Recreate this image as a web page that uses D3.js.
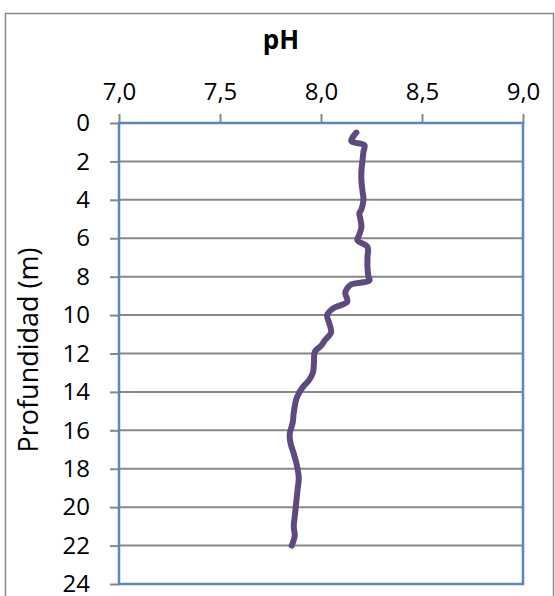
<!DOCTYPE html>
<html>
<head>
<meta charset="utf-8">
<script src="https://cdn.jsdelivr.net/npm/d3@7"></script>
<style>
    body { margin: 0; background: #fff; }
    svg text { font-family: "Open Sans", "Liberation Sans", sans-serif; fill: #000; }
</style>
</head>
<body>
<svg id="chart" width="555" height="596"></svg>
<script>
// depth profile of pH
const depths = [0.5, 0.95, 1.15, 1.5, 2.0, 2.5, 3.0, 3.5, 4.0, 4.5, 4.7, 5.0, 5.4, 5.8, 6.1,
    6.45, 7.0, 7.5, 8.0, 8.2, 8.4, 8.6, 8.85, 9.3, 9.65, 10.0, 10.4, 10.9, 11.3, 11.6, 11.9,
    12.5, 13.0, 13.4, 13.75, 14.3, 15.1, 15.6, 16.2, 16.7, 17.2, 17.8, 18.5, 19.0, 19.5, 20.0,
    20.5, 21.0, 21.5, 22.0];
const phValues = [8.175, 8.15, 8.215, 8.21, 8.205, 8.20, 8.20, 8.205, 8.21, 8.20, 8.19, 8.195, 8.20, 8.19, 8.18,
    8.23, 8.23, 8.23, 8.235, 8.24, 8.15, 8.13, 8.12, 8.13, 8.06, 8.03, 8.04, 8.05, 8.02, 8.0, 7.97,
    7.965, 7.96, 7.94, 7.91, 7.88, 7.865, 7.86, 7.845, 7.85, 7.865, 7.88, 7.89, 7.885, 7.88, 7.875,
    7.87, 7.865, 7.87, 7.855];
const xTicks = [7.0, 7.5, 8.0, 8.5, 9.0];
const yTicks = d3.range(0, 25, 2);

const svg = d3.select("#chart");
const plot = { left: 119, top: 123, right: 523, bottom: 584 };

// outer chart frame
svg.append("rect")
    .attr("x", 5.5).attr("y", 13.5)
    .attr("width", 548).attr("height", 600)
    .attr("fill", "none").attr("stroke", "#888").attr("stroke-width", 1.5);

const x = d3.scaleLinear().domain([7, 9]).range([plot.left, plot.right]);
const y = d3.scaleLinear().domain([0, 24]).range([plot.top, plot.bottom]);

// horizontal gridlines
svg.append("g")
    .selectAll("line")
    .data(yTicks.filter(d => d > 0 && d < 24))
    .join("line")
    .attr("x1", plot.left).attr("x2", plot.right)
    .attr("y1", d => y(d)).attr("y2", d => y(d))
    .attr("stroke", "#888").attr("stroke-width", 2);

// axes (top and left)
const fmt = d => d3.format(".1f")(d).replace(".", ",");
const xAxis = svg.append("g")
    .attr("transform", `translate(0,${plot.top})`)
    .call(d3.axisTop(x).tickValues(xTicks).tickFormat(fmt).tickSize(9).tickPadding(14));
const yAxis = svg.append("g")
    .attr("transform", `translate(${plot.left},0)`)
    .call(d3.axisLeft(y).tickValues(yTicks).tickSize(9).tickPadding(20));

[xAxis, yAxis].forEach(g => {
    g.select(".domain").remove();
    g.selectAll(".tick line").attr("stroke", "#888").attr("stroke-width", 2);
    g.selectAll(".tick text").attr("font-size", 24);
});

// plot area border
svg.append("rect")
    .attr("x", plot.left).attr("y", plot.top)
    .attr("width", plot.right - plot.left).attr("height", plot.bottom - plot.top)
    .attr("fill", "none").attr("stroke", "#5b86c0").attr("stroke-width", 2.5);

// the profile line
const pts = depths.map((d, i) => [phValues[i], d]);
svg.append("path")
    .datum(pts)
    .attr("fill", "none")
    .attr("stroke", "#5e4a7e")
    .attr("stroke-width", 6)
    .attr("stroke-linejoin", "round")
    .attr("stroke-linecap", "round")
    .attr("d", d3.line().x(d => x(d[0])).y(d => y(d[1])).curve(d3.curveCatmullRom));

// titles
svg.append("text")
    .attr("x", 281).attr("y", 49)
    .attr("text-anchor", "middle")
    .attr("font-size", 26).attr("font-weight", "bold")
    .text("pH");

svg.append("text")
    .attr("transform", "translate(38,350) rotate(-90)")
    .attr("text-anchor", "middle")
    .attr("font-size", 27)
    .text("Profundidad (m)");
</script>
</body>
</html>
